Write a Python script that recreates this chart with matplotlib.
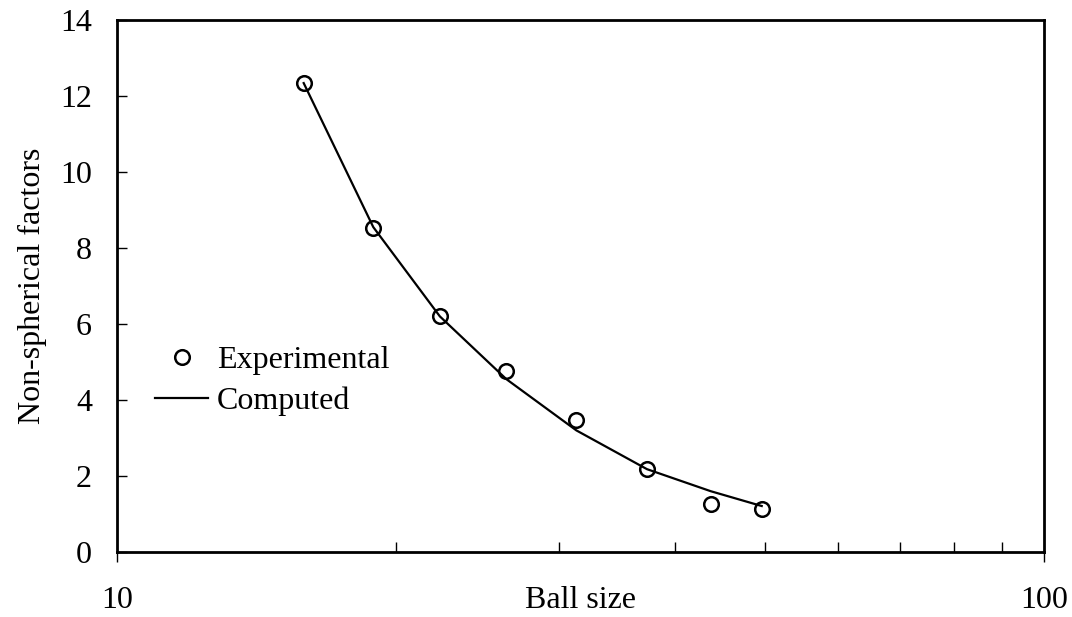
import numpy as np
import matplotlib.pyplot as plt
from matplotlib.ticker import FixedLocator, NullFormatter

plt.rcParams['font.family'] = ['Liberation Serif', 'DejaVu Serif']

# データ
ball_size = [15.9, 18.9, 22.3, 26.3, 31.3, 37.3, 43.7, 49.6]
exp_factor = [12.34, 8.53, 6.21, 4.76, 3.47, 2.18, 1.26, 1.12]
calc_factor = [12.34, 8.55, 6.2, 4.55, 3.2, 2.18, 1.6, 1.21]

FS = 23

fig = plt.figure(figsize=(10.72, 6.17), dpi=100)
ax = fig.add_axes([117 / 1072, 1 - 552 / 617, 927 / 1072, 532 / 617])

ax.plot(ball_size, calc_factor, color='black', lw=1.6, label='Computed', zorder=2)
ax.plot(ball_size, exp_factor, 'o', ms=10.5, mfc='none', mec='black', mew=1.8,
        label='Experimental', zorder=3)

ax.set_xscale('log')
ax.set_xlim(10, 100)
ax.set_ylim(0, 14)
ax.set_yticks(np.arange(0, 15, 2))
ax.set_xticks([10, 100])
ax.set_xticklabels(['10', '100'])
ax.xaxis.set_minor_locator(FixedLocator(range(20, 100, 10)))
ax.xaxis.set_minor_formatter(NullFormatter())

ax.tick_params(axis='x', which='major', direction='out', length=7, width=1, labelsize=FS, pad=17.5)
ax.tick_params(axis='x', which='minor', direction='in', length=7, width=1)
ax.tick_params(axis='y', which='major', direction='in', length=7, width=1, labelsize=FS, pad=18)

for s in ax.spines.values():
    s.set_linewidth(2)

ax.set_xlabel('Ball size', fontsize=FS)
ax.xaxis.set_label_coords(0.5, -0.064)
ax.set_ylabel('Non-spherical factors', fontsize=FS)
ax.yaxis.set_label_coords(-0.075, 0.5)

# 凡例（Experimental を上に）
h, l = ax.get_legend_handles_labels()
ax.legend(h[::-1], l[::-1], loc='center left', bbox_to_anchor=(0.010, 0.322),
          frameon=False, fontsize=FS, handlelength=1.66, handletextpad=0.28,
          labelspacing=0.35)

fig.savefig('out.png', dpi=100)
